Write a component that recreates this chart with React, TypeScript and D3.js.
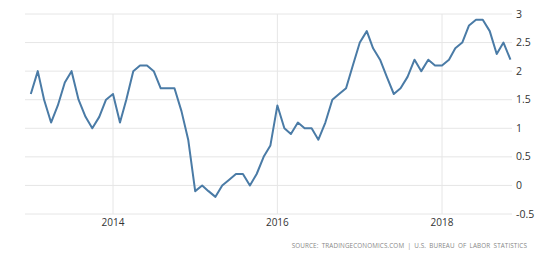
import React from "react";
import * as d3 from "d3";

const startYear = 2013;
const values: number[] = [
  // 2013
  1.6, 2.0, 1.5, 1.1, 1.4, 1.8, 2.0, 1.5, 1.2, 1.0, 1.2, 1.5,
  // 2014
  1.6, 1.1, 1.5, 2.0, 2.1, 2.1, 2.0, 1.7, 1.7, 1.7, 1.3, 0.8,
  // 2015
  -0.1, 0.0, -0.1, -0.2, 0.0, 0.1, 0.2, 0.2, 0.0, 0.2, 0.5, 0.7,
  // 2016
  1.4, 1.0, 0.9, 1.1, 1.0, 1.0, 0.8, 1.1, 1.5, 1.6, 1.7, 2.1,
  // 2017
  2.5, 2.7, 2.4, 2.2, 1.9, 1.6, 1.7, 1.9, 2.2, 2.0, 2.2, 2.1,
  // 2018
  2.1, 2.2, 2.4, 2.5, 2.8, 2.9, 2.9, 2.7, 2.3, 2.5, 2.2,
];
const yTicks: number[] = [-0.5, 0, 0.5, 1, 1.5, 2, 2.5, 3];
const xTickYears: number[] = [2014, 2016, 2018];
const sourceText = "SOURCE: TRADINGECONOMICS.COM | U.S. BUREAU OF LABOR STATISTICS";

export default function App() {
  const W = 550, H = 266;
  const left = 25, right = 512, top = 14, bottom = 214;
  const dates = values.map((_, i) => new Date(startYear, i, 1));
  const x = d3.scaleTime()
    .domain([new Date(2014, 0, 1), new Date(2018, 0, 1)])
    .range([113, 442]);
  const y = d3.scaleLinear().domain([-0.5, 3]).range([bottom, top]);
  const line = d3.line<number>()
    .x((_, i) => x(dates[i]))
    .y((d) => y(d));
  const font = "'Open Sans', 'Noto Sans', sans-serif";
  return (
    <svg width={W} height={H} style={{ position: "absolute", left: 0, top: 0, background: "#fff" }}>
      {yTicks.map((t) => (
        <line key={"g" + t} x1={left} x2={right} y1={y(t)} y2={y(t)} stroke="#e6e6e6" strokeWidth={1} />
      ))}
      {xTickYears.map((yr) => (
        <line key={"v" + yr} x1={x(new Date(yr, 0, 1))} x2={x(new Date(yr, 0, 1))} y1={top} y2={bottom} stroke="#e6e6e6" strokeWidth={1} />
      ))}
      <path d={line(values) || ""} fill="none" stroke="#4a7ba6" strokeWidth={2} strokeLinejoin="round" />
      {yTicks.map((t) => (
        <text key={"t" + t} x={516} y={y(t) + 3.5} fontSize={10.5} fill="#333" fontFamily={font}>
          {t}
        </text>
      ))}
      {xTickYears.map((yr) => (
        <text key={"x" + yr} x={x(new Date(yr, 0, 1))} y={226} fontSize={10} fill="#333" textAnchor="middle" fontFamily={font}>
          {yr}
        </text>
      ))}
      <text x={527} y={247.5} fontSize={6.3} fill="#888" textAnchor="end" letterSpacing={0.12} wordSpacing={1.5} fontFamily={font}>
        {sourceText}
      </text>
    </svg>
  );
}
